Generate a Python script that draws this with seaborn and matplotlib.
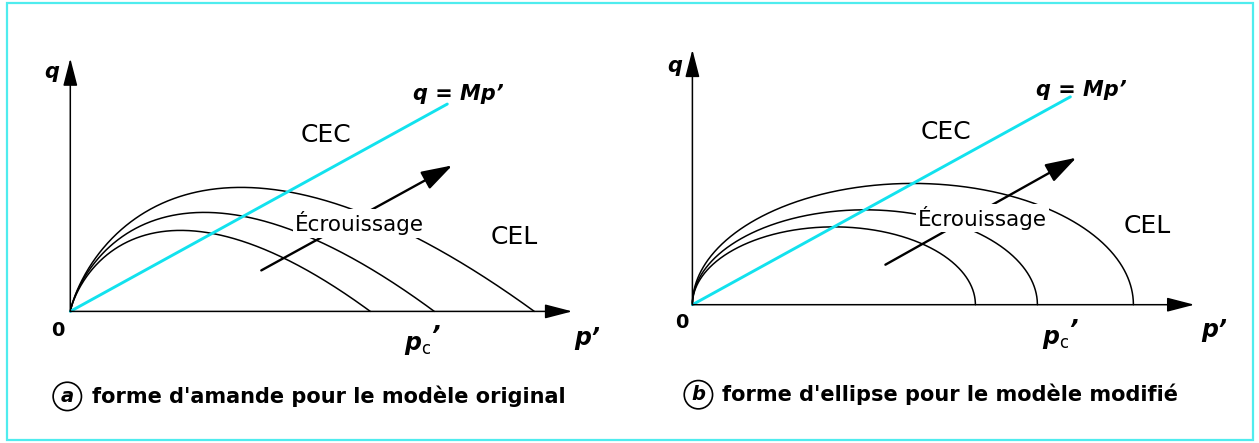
import numpy as np
import pandas as pd
import matplotlib
matplotlib.use("Agg")
import matplotlib.pyplot as plt
import seaborn as sns
from matplotlib.patches import Rectangle

sns.set_theme(style="white")
plt.rcParams["font.family"] = ["DejaVu Sans"]
plt.rcParams["text.color"] = "black"
plt.rcParams["mathtext.fontset"] = "custom"
plt.rcParams["mathtext.it"] = "DejaVu Sans:italic:bold"
plt.rcParams["mathtext.rm"] = "DejaVu Sans"
plt.rcParams["mathtext.bf"] = "DejaVu Sans:bold"

# Critical state slope (both panels)
M = 0.55
# Original Cam-Clay: preconsolidation pressures and peak deviatoric stresses
pc_amande = [3.00, 3.64, 4.64]
qpeak_amande = [0.81, 0.99, 1.24]
# Modified Cam-Clay: preconsolidation pressures
pc_ellipse = [2.83, 3.45, 4.41]
# Extent of the critical state line q = M p'
p_csl_end = [3.77, 3.78]

captions = ["forme d'amande pour le modèle original",
            "forme d'ellipse pour le modèle modifié"]
panel_letters = ["a", "b"]

CYAN = "#12e2ee"
FRAME = "#4fecee"


def almond(pc, qpk, n=400):
    x = np.linspace(1e-6, 1.0, n)
    p = pc * x
    q = qpk * np.e * x * np.log(1.0 / x)
    return p, q


def ellipse(pc, n=600):
    t = np.linspace(0, np.pi, n)
    p = pc / 2 * (1 - np.cos(t))
    q = M * np.sqrt(np.clip(p * (pc - p), 0, None))
    return p, q


frames = []
for i, (pc, qpk) in enumerate(zip(pc_amande, qpeak_amande)):
    p, q = almond(pc, qpk)
    frames.append(pd.DataFrame({"p": p, "q": q, "surface": i, "panel": "a"}))
for i, pc in enumerate(pc_ellipse):
    p, q = ellipse(pc)
    frames.append(pd.DataFrame({"p": p, "q": q, "surface": i, "panel": "b"}))
surfaces = pd.concat(frames, ignore_index=True)

fig = plt.figure(figsize=(12.59, 4.43), dpi=100)
axes = [fig.add_axes([0, 0, 630 / 1259, 1]),
        fig.add_axes([630 / 1259, 0, 629 / 1259, 1])]
axes[0].set_xlim(-0.703, 5.597)
axes[0].set_ylim(-1.316, 3.114)
axes[1].set_xlim(-0.624, 5.666)
axes[1].set_ylim(-1.383, 3.047)

# text placement per panel
layout = [
    dict(q=(-0.19, 2.39), zero=(-0.12, -0.19), pcp=(3.47, -0.34),
         pp=(5.17, -0.27), eq=(3.43, 2.17), cec=(2.56, 1.76), cel=(4.44, 0.74),
         ecr=(2.89, 0.88), arr=((1.91, 0.41), (3.82, 1.46)),
         circ=(-0.03, -0.85), cap=(0.22, -0.85), xend=5.02, yend=2.53),
    dict(q=(-0.18, 2.39), zero=(-0.11, -0.18), pcp=(3.63, -0.34),
         pp=(5.22, -0.25), eq=(3.44, 2.15), cec=(2.54, 1.73), cel=(4.55, 0.79),
         ecr=(2.90, 0.87), arr=((1.93, 0.40), (3.84, 1.47)),
         circ=(0.06, -0.90), cap=(0.30, -0.90), xend=5.02, yend=2.55),
]

for k, (ax, panel) in enumerate(zip(axes, ["a", "b"])):
    ax.set_axis_off()
    L = layout[k]
    data = surfaces[surfaces["panel"] == panel]
    sns.lineplot(data=data, x="p", y="q", units="surface", estimator=None,
                 sort=False, color="black", lw=1.1, legend=False, ax=ax,
                 zorder=2)
    pe = p_csl_end[k]
    sns.lineplot(x=[0, pe], y=[0, M * pe], color=CYAN, lw=2.1, ax=ax,
                 zorder=3)

    # coordinate axes with arrowheads
    axprops = dict(arrowstyle="-|>,head_length=0.85,head_width=0.22",
                   color="black", lw=1.1, mutation_scale=20,
                   shrinkA=0, shrinkB=0)
    ax.annotate("", xy=(L["xend"], 0), xytext=(0, 0), arrowprops=axprops,
                zorder=4)
    ax.annotate("", xy=(0, L["yend"]), xytext=(0, 0), arrowprops=axprops,
                zorder=4)

    # hardening arrow
    (x0, y0), (x1, y1) = L["arr"]
    ax.annotate("", xy=(x1, y1), xytext=(x0, y0), zorder=4,
                arrowprops=dict(arrowstyle="-|>,head_length=0.95,head_width=0.3",
                                color="black", lw=1.7, mutation_scale=20,
                                shrinkA=0, shrinkB=0))
    ax.text(*L["ecr"], "Écrouissage", fontsize=15.5, ha="center",
            va="center", zorder=6,
            bbox=dict(boxstyle="square,pad=0.1", fc="white", ec="none"))

    bi = dict(fontweight="bold", fontstyle="italic")
    ax.text(*L["q"], "q", fontsize=15, ha="center", va="center", **bi)
    ax.text(*L["zero"], "0", fontsize=14, ha="center", va="center",
            fontweight="bold")
    # p'_c : p with subscript c, prime at its upper right
    px, py = L["pcp"]
    ax.text(px, py, r"$p_{\mathrm{c}}$", fontsize=17, ha="center",
            va="center")
    ax.text(px + 0.13, py + 0.09, "’", fontsize=18, ha="left",
            va="center", **bi)
    ax.text(*L["pp"], "p’", fontsize=17, ha="center", va="center", **bi)
    ax.text(*L["eq"], "q = Mp’", fontsize=15, ha="left", va="center", **bi)
    ax.text(*L["cec"], "CEC", fontsize=18, ha="center", va="center")
    ax.text(*L["cel"], "CEL", fontsize=18, ha="center", va="center")

    # caption with circled panel letter
    ax.text(*L["circ"], panel_letters[k], fontsize=14, ha="center",
            va="center", **bi,
            bbox=dict(boxstyle="circle,pad=0.24", fc="white", ec="black",
                      lw=1.2))
    ax.text(*L["cap"], captions[k], fontsize=15, ha="left", va="center",
            fontweight="bold")

fig.patches.append(Rectangle((7 / 1259, 3 / 443), 1246 / 1259, 437 / 443,
                             transform=fig.transFigure, fill=False,
                             ec=FRAME, lw=1.6))

fig.savefig("out.png", dpi=100, facecolor="white")
